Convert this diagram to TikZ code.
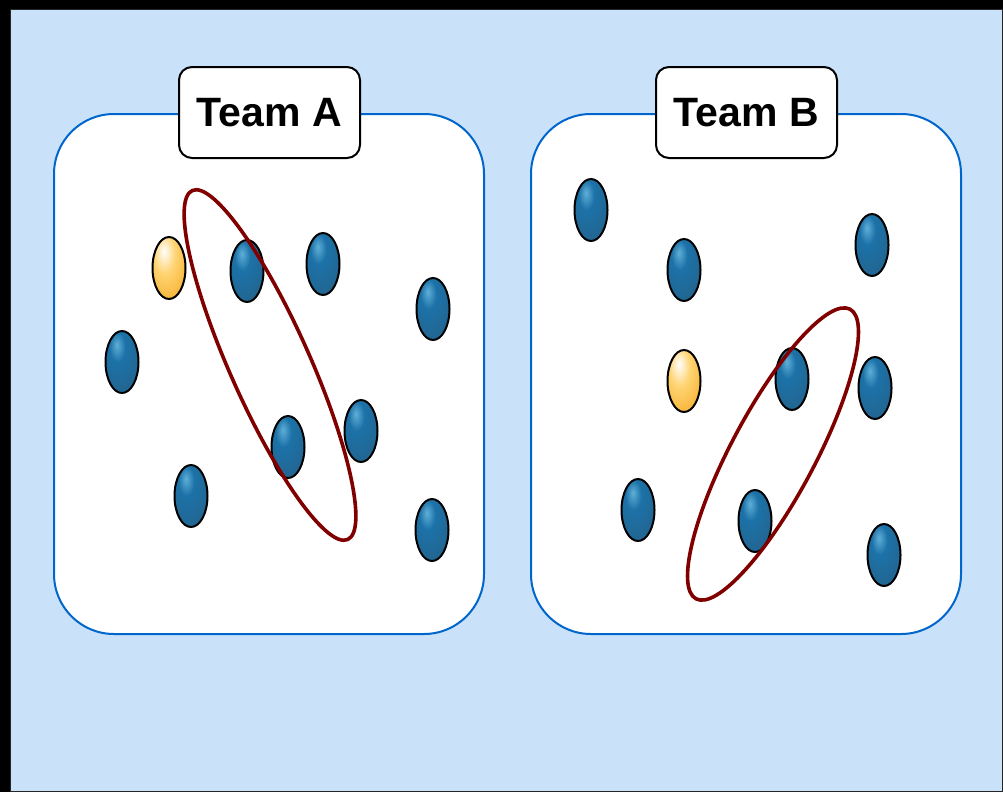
\documentclass[tikz,border=0pt]{standalone}
\usepackage{fontspec}
\setmainfont{Liberation Sans}
\usetikzlibrary{
    shapes.geometric,
    positioning
}

\definecolor{bgblue}{RGB}{201,226,250}
\definecolor{panelblue}{RGB}{0,102,204}
\definecolor{ringred}{RGB}{128,0,0}
\definecolor{dotHi}{RGB}{95,175,215}
\definecolor{dotMid}{RGB}{28,114,168}
\definecolor{dotDark}{RGB}{48,72,92}
\definecolor{orMid}{RGB}{255,212,115}
\definecolor{orDark}{RGB}{243,168,30}

% shaded fills for the players
\pgfdeclareradialshading{bluedot}{\pgfqpoint{-8bp}{14bp}}{%
    color(0bp)=(dotHi); color(12bp)=(dotMid); color(34bp)=(dotMid!70!dotDark);
    color(50bp)=(dotDark); color(90bp)=(dotDark)}
\pgfdeclareradialshading{orangedot}{\pgfqpoint{-8bp}{14bp}}{%
    color(0bp)=(white); color(16bp)=(orMid); color(44bp)=(orDark);
    color(90bp)=(orDark)}

\begin{document}
\begin{tikzpicture} [x=1pt,y=-1pt,
    panel/.style={draw=panelblue,fill=white,line width=2pt,rounded corners=60pt,
        minimum width=430pt,minimum height=520pt},
    tag/.style={draw,fill=white,line width=2pt,rounded corners=13pt,
        minimum width=181pt,minimum height=91pt,
        font=\fontsize{41}{48}\selectfont\bfseries},
    player/.style={ellipse,draw,line width=2pt,inner sep=0pt,
        minimum width=33pt,minimum height=62pt},
    bdot/.style={player,shading=bluedot},
    odot/.style={player,shading=orangedot},
    ring/.style={ellipse,draw=ringred,line width=3.6pt,inner sep=0pt}]
    \useasboundingbox (0,0) rectangle (1003,792);
    \fill[black] (0,0) rectangle (1003,792);
    \draw[fill=bgblue,draw=black!85,line width=1pt] (10.5,9.5) rectangle (1002,791);

    % the two teams
    \node[panel] (panelA) at (269,374) {};
    \node[panel] (panelB) at (746,374) {};
    \node[tag]   (tagA)   at (269.5,112.5) {Team A};
    \node[tag]   (tagB)   at (746.5,112.5) {Team B};

    % team A
    \node[odot] (a1) at (169,268) {};
    \node[bdot] (a2) at (247,271) {};
    \node[bdot] (a3) at (323,264) {};
    \node[bdot] (a4) at (433,309) {};
    \node[bdot] (a5) at (122,362) {};
    \node[bdot] (a6) at (288,447) {};
    \node[bdot] (a7) at (361,431) {};
    \node[bdot] (a8) at (191,496) {};
    \node[bdot] (a9) at (432,530) {};

    % team B
    \node[bdot] (b1) at (591,210) {};
    \node[bdot] (b2) at (684,270) {};
    \node[bdot] (b3) at (872,245) {};
    \node[odot] (b4) at (684,381) {};
    \node[bdot] (b5) at (792,379) {};
    \node[bdot] (b6) at (875,388) {};
    \node[bdot] (b7) at (638,510) {};
    \node[bdot] (b8) at (755,521) {};
    \node[bdot] (b9) at (884,555) {};

    % groups
    \node[ring,minimum width=382pt,minimum height=80pt,rotate=-66] (ringA) at (270,365) {};
    \node[ring,minimum width=328pt,minimum height=84pt,rotate=62]  (ringB) at (773,454) {};
\end{tikzpicture}
\end{document}
